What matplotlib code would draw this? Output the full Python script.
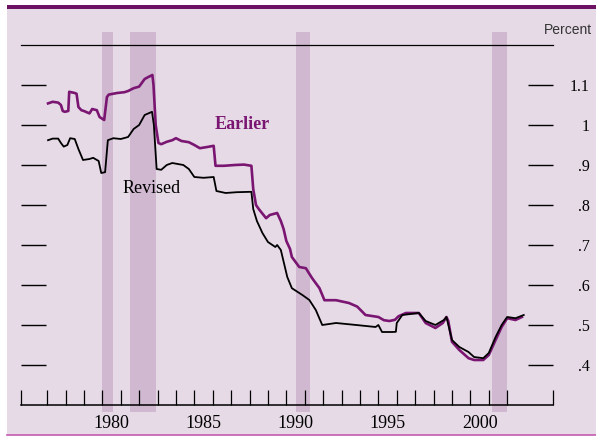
import matplotlib as mpl
import matplotlib.pyplot as plt
from matplotlib import font_manager
from matplotlib.patches import Rectangle
from matplotlib.lines import Line2D

# Earlier series (percent)
earlier_t = [1977.05, 1977.3, 1977.6, 1977.75, 1977.85, 1977.96, 1978.15, 1978.2, 1978.5, 1978.6,
             1978.7, 1978.86, 1979.0, 1979.3, 1979.45, 1979.7, 1979.85, 1980.1, 1980.25, 1980.35,
             1980.8, 1981.2, 1981.4, 1981.7, 1982.0, 1982.3, 1982.5, 1982.72, 1982.78, 1982.9,
             1983.05, 1983.2, 1983.5, 1983.8, 1984.0, 1984.3, 1984.7, 1985.0, 1985.3, 1985.7,
             1986.05, 1986.15, 1986.6, 1987.2, 1987.7, 1988.1, 1988.2, 1988.35, 1988.5, 1988.9,
             1989.1, 1989.5, 1989.7, 1989.85, 1990.0, 1990.2, 1990.3, 1990.7, 1991.06, 1991.4,
             1991.8, 1992.07, 1992.7, 1993.4, 1993.85, 1994.3, 1995.0, 1995.3, 1995.6, 1995.9,
             1996.1, 1996.5, 1997.2, 1997.57, 1998.1, 1998.5, 1998.7, 1998.8, 1999.0, 1999.4,
             1999.9, 2000.2, 2000.7, 2001.0, 2001.37, 2001.7, 2002.0, 2002.45, 2002.8]
earlier_v = [1.054, 1.058, 1.056, 1.050, 1.035, 1.033, 1.035, 1.083, 1.080, 1.078,
             1.045, 1.037, 1.035, 1.029, 1.040, 1.037, 1.020, 1.0125, 1.070, 1.076,
             1.080, 1.082, 1.085, 1.092, 1.096, 1.115, 1.120, 1.125, 1.100, 1.000,
             0.955, 0.952, 0.958, 0.962, 0.967, 0.960, 0.957, 0.950, 0.942, 0.945,
             0.948, 0.898, 0.898, 0.900, 0.901, 0.898, 0.840, 0.800, 0.790, 0.767,
             0.775, 0.780, 0.760, 0.740, 0.710, 0.690, 0.670, 0.645, 0.642, 0.617,
             0.592, 0.562, 0.562, 0.555, 0.546, 0.525, 0.520, 0.512, 0.510, 0.513,
             0.522, 0.530, 0.530, 0.505, 0.4925, 0.505, 0.520, 0.510, 0.458, 0.4375,
             0.417, 0.4125, 0.4125, 0.425, 0.4625, 0.495, 0.517, 0.5125, 0.520]

# Revised series (percent)
revised_t = [1977.05, 1977.3, 1977.6, 1977.75, 1977.9, 1978.1, 1978.25, 1978.5, 1978.7, 1978.95,
             1979.3, 1979.5, 1979.8, 1979.94, 1980.15, 1980.3, 1980.6, 1981.0, 1981.4, 1981.7,
             1982.0, 1982.3, 1982.7, 1982.8, 1982.95, 1983.2, 1983.5, 1983.8, 1984.4, 1984.7,
             1985.0, 1985.5, 1986.05, 1986.2, 1986.7, 1987.3, 1988.1, 1988.2, 1988.4, 1988.7,
             1989.0, 1989.4, 1989.5, 1989.7, 1990.05, 1990.3, 1990.87, 1991.25, 1991.6, 1991.95,
             1992.7, 1993.8, 1994.85, 1995.0, 1995.2, 1995.75, 1995.95, 1996.0, 1996.3, 1997.2,
             1997.57, 1998.1, 1998.56, 1998.7, 1999.0, 1999.4, 1999.9, 2000.2, 2000.7, 2001.0,
             2001.37, 2001.7, 2002.0, 2002.45, 2002.9]
revised_v = [0.962, 0.966, 0.966, 0.955, 0.946, 0.950, 0.967, 0.965, 0.940, 0.9125,
             0.915, 0.918, 0.910, 0.880, 0.882, 0.962, 0.967, 0.965, 0.970, 0.990,
             1.000, 1.025, 1.033, 1.000, 0.890, 0.888, 0.900, 0.905, 0.900, 0.890,
             0.870, 0.868, 0.870, 0.835, 0.830, 0.832, 0.833, 0.790, 0.760, 0.730,
             0.7075, 0.695, 0.700, 0.6875, 0.620, 0.592, 0.575, 0.5625, 0.5375, 0.500,
             0.505, 0.500, 0.495, 0.500, 0.4825, 0.4825, 0.483, 0.505, 0.525, 0.530,
             0.510, 0.500, 0.5125, 0.520, 0.4625, 0.445, 0.4325, 0.420, 0.417, 0.430,
             0.470, 0.500, 0.520, 0.517, 0.525]

# shaded recessions
recessions = [(1980.0, 1980.58), (1981.5, 1982.9), (1990.5, 1991.28), (2001.15, 2002.0)]

year_ticks = list(range(1977, 2003))
year_labels = [1980, 1985, 1990, 1995, 2000]
y_ticks = [0.4, 0.5, 0.6, 0.7, 0.8, 0.9, 1.0, 1.1]
y_labels = ['.4', '.5', '.6', '.7', '.8', '.9', '1', '1.1']

bg = '#E6DAE6'
band = '#CFB8D0'
purple = '#7A1672'

names = {f.name for f in font_manager.fontManager.ttflist}
sans = 'Liberation Sans Narrow' if 'Liberation Sans Narrow' in names else 'Liberation Sans'
mpl.rcParams['font.family'] = ['Liberation Serif', 'DejaVu Serif']

W, H = 596, 437
fig = plt.figure(figsize=(W / 100, H / 100), dpi=100, facecolor='white')

# panel background, top bar and bottom rule
fig.add_artist(Rectangle((7 / W, 2 / H), 1, 426 / H, transform=fig.transFigure,
                         facecolor=bg, edgecolor='none', zorder=-10))
fig.add_artist(Rectangle((7 / W, 428 / H), 1, 4 / H, transform=fig.transFigure,
                         facecolor='#6B1263', edgecolor='none', zorder=-9))
fig.add_artist(Line2D([7 / W, 1], [2 / H, 2 / H], transform=fig.transFigure,
                      color='#C45BB0', lw=1.2))

xlo, xhi = 1975.58, 2004.49
ax = fig.add_axes([21 / W, 32 / H, 532 / W, 360 / H])
ax.set_facecolor('none')
ax.set_xlim(xlo, xhi)
ax.set_ylim(0.3, 1.2)

for a, b in recessions:
    ax.axvspan(a, b, ymin=-7 / 360, ymax=1 + 13 / 360, color=band, lw=0,
               clip_on=False, zorder=0)

ax.plot(earlier_t, earlier_v, color=purple, lw=1.9, zorder=2)
ax.plot(revised_t, revised_v, color='black', lw=1.3, zorder=3)

ax.text(1987.62, 0.99, 'Earlier', color=purple, fontsize=13, fontweight='bold',
        ha='center', va='baseline')
ax.text(1982.68, 0.83, 'Revised', color='black', fontsize=13, ha='center', va='baseline')

# spines
for s in ['left', 'right']:
    ax.spines[s].set_visible(False)
ax.spines['top'].set_linewidth(0.9)
ax.spines['bottom'].set_linewidth(1.1)

# x axis: year ticks plus end caps, labels at mid-year
ax.set_xticks([xlo] + year_ticks + [xhi])
ax.set_xticklabels([])
ax.set_xticks([y + 0.5 for y in year_labels], minor=True)
ax.set_xticklabels([str(y) for y in year_labels], minor=True, fontsize=13)
ax.tick_params(axis='x', which='major', direction='in', length=10.8, width=0.9, top=False)
ax.tick_params(axis='x', which='minor', length=0, pad=7, top=False)

# y axis: ticks on both sides, labels on the right
ax.set_yticks(y_ticks)
ax.set_yticklabels(y_labels, fontsize=11.5)
ax.tick_params(axis='y', left=True, right=True, labelleft=False, labelright=True,
               direction='in', length=18, width=1.0, pad=26.6)
for lbl in ax.get_yticklabels():
    lbl.set_horizontalalignment('right')

fig.text(592 / W, 1 - 30 / H, 'Percent', ha='right', va='center', fontsize=10,
         family=sans, color='#333333')

fig.savefig('out.png', dpi=100, facecolor=fig.get_facecolor())
